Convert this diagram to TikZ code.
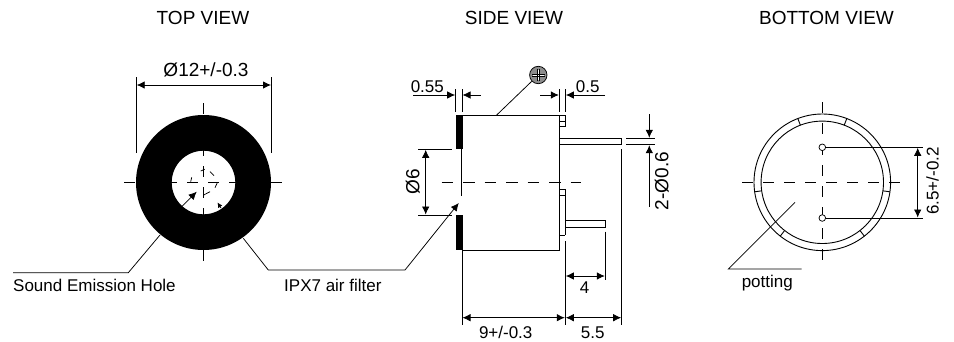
\documentclass[tikz,border=0pt]{standalone}
\usepackage{fontspec}
\setmainfont{Liberation Sans}
\usetikzlibrary{arrows.meta,calc}
\tikzset{>={Latex[length=8pt,width=7.5pt]}}
\tikzset{part/.style={line width=0.9pt,black}}
\tikzset{thin line/.style={line width=0.75pt,black}}
\tikzset{dim/.style={thin line,<->}}
\tikzset{center line/.style={line width=0.75pt,black,dash pattern=on 10.5pt off 10.5pt}}
\tikzset{label text/.style={inner sep=0pt,font=\fontsize{17}{17}\selectfont}}
\tikzset{big label/.style={inner sep=0pt,font=\fontsize{19}{19}\selectfont}}
\tikzset{title text/.style={inner sep=0pt,font=\fontsize{19}{19}\selectfont}}
\tikzset{pin hole/.style={circle,draw,line width=0.75pt,fill=white,inner sep=0pt,minimum size=6.6pt}}

\begin{document}
\begin{tikzpicture}[x=1pt,y=-1pt]
    \useasboundingbox (0,0) rectangle (954,341);

    \node[title text] (topTitle) at (203,18) {TOP VIEW};
    \node[title text] (sideTitle) at (514,18) {SIDE VIEW};
    \node[title text] (bottomTitle) at (826.5,18) {BOTTOM VIEW};

    % top view
    \coordinate (topC) at (203.5,182.5);
    \fill[black,even odd rule] (topC) circle (67.5) (topC) circle (31.8);
    \draw[center line] (124,182.5) -- (284,182.5);
    \draw[center line] (203.5,103) -- (203.5,262);
    \draw[thin line] (200.7,171) -- (204.7,169.3);
    \draw[thin line] (210,171.7) -- (214,175.7);
    \draw[thin line] (191.7,177.3) -- (190.7,181.7);
    \draw[thin line] (215,187.7) -- (217.3,182.7);
    \draw[thin line] (203.7,195) -- (210,191.7);
    \coordinate (holeTail) at (181.7,206.7);
    \coordinate (holeTip) at (196.7,191.7);
    \draw[thin line,->] (holeTail) -- (holeTip);
    \coordinate (smallTail) at (221,208);
    \coordinate (smallTip) at (217.5,202.5);
    \draw[thin line,-{Latex[length=5pt,width=5pt]}] (smallTail) -- (smallTip);
    \coordinate (topL) at (136.7,77.3);
    \coordinate (topLb) at (136.7,153.3);
    \coordinate (topR) at (271,77.3);
    \coordinate (topRb) at (271,153.3);
    \draw[thin line] (topL) -- (topLb);
    \draw[thin line] (topR) -- (topRb);
    \draw[dim] (136.7,85) -- (271,85);
    \node[big label] (topDia) at (206,69.5) {Ø12+/-0.3};
    \coordinate (soundA) at (160,235);
    \coordinate (soundB) at (128.3,272.7);
    \coordinate (soundC) at (13,272.7);
    \draw[thin line] (soundA) -- (soundB) -- (soundC);
    \node[label text,anchor=west] (soundLabel) at (13,285) {Sound Emission Hole};
    \coordinate (filterA) at (243.3,238.3);
    \coordinate (filterB) at (268.3,270);
    \coordinate (filterC) at (405,270);
    \coordinate (filterD) at (458.8,203);
    \draw[thin line,->] (filterA) -- (filterB) -- (filterC) -- (filterD);
    \node[label text,anchor=west] (filterLabel) at (284,285) {IPX7 air filter};

    % side view
    \fill[black] (455.7,115) rectangle (462.7,149.3);
    \fill[black] (455.7,215) rectangle (462.7,250);
    \draw[part] (462,115) -- (565.3,115) -- (565.3,126.7) -- (559.3,126.7);
    \draw[part] (559.3,121) -- (565.3,121);
    \draw[part] (559.3,115) -- (559.3,235) -- (565.3,235);
    \draw[part] (462,250) -- (559.3,250) -- (559.3,235);
    \draw[part] (559.3,189) -- (565.3,189) -- (565.3,235);
    \draw[part] (559.3,195) -- (565.3,195);
    \draw[part] (461,149.3) -- (461,196);
    \draw[part] (559.3,138.3) rectangle (621.7,144.7);
    \draw[part] (565.3,220.3) rectangle (605.3,227.3);
    \draw[center line,dash pattern=on 11.5pt off 10pt] (441.7,182.3) -- (581,182.3);
    % dimensions
    \draw[thin line] (455.7,89.3) -- (455.7,112.3);
    \draw[thin line] (462,89.3) -- (462,112.3);
    \draw[thin line] (559.3,89.3) -- (559.3,112.3);
    \draw[thin line] (565.3,89.3) -- (565.3,112.3);
    \draw[thin line,->] (413.3,95) -- (455.2,95);
    \draw[thin line,->] (480.7,95) -- (462.5,95);
    \draw[thin line,->] (540,95) -- (558.8,95);
    \draw[thin line,->] (605,95) -- (565.8,95);
    \node[label text] (dimA) at (427.3,87) {0.55};
    \node[label text] (dimB) at (587.7,87) {0.5};
    \node[circle,draw,line width=0.75pt,fill=black!45,minimum size=17.4pt,inner sep=0pt] (screw) at (538.3,75) {};
    \draw[white,line width=1.6pt] (533,75) -- (543.6,75) (538.3,69.7) -- (538.3,80.3);
    \draw[black,line width=0.5pt] (532,73.8) -- (544.6,73.8) (532,76.2) -- (544.6,76.2) (537.1,68.7) -- (537.1,81.3) (539.5,68.7) -- (539.5,81.3);
    \coordinate (screwFoot) at (496.7,115);
    \draw[thin line] (screw) -- (screwFoot);
    \draw[thin line] (418,149.3) -- (452.3,149.3);
    \draw[thin line] (418,215) -- (452.3,215);
    \draw[dim] (425.7,149.8) -- (425.7,214.5);
    \node[big label,rotate=90] (dimC) at (412.7,181.7) {Ø6};
    \draw[thin line] (626,138.3) -- (655,138.3);
    \draw[thin line] (626,144.7) -- (655,144.7);
    \draw[thin line,->] (649.3,114.3) -- (649.3,137.8);
    \draw[thin line,->] (649.3,206.7) -- (649.3,145.2);
    \node[big label,rotate=90] (dimD) at (661.7,181) {2-Ø0.6};
    \draw[thin line] (605.3,231.7) -- (605.3,280);
    \draw[thin line] (565.3,241) -- (565.3,325);
    \draw[thin line] (621.7,149.3) -- (621.7,325);
    \draw[thin line] (462,215) -- (462,325);
    \draw[dim] (565.8,276) -- (604.8,276);
    \draw[dim] (462.5,317.7) -- (564.8,317.7);
    \draw[dim] (565.8,317.7) -- (621.2,317.7);
    \node[label text] (dimE) at (584.7,287.3) {4};
    \node[label text] (dimF) at (505.7,332.3) {9+/-0.3};
    \node[label text] (dimG) at (592.7,332.3) {5.5};

    % bottom view
    \coordinate (botC) at (822.3,182.3);
    \draw[part] (botC) circle (68.3);
    \draw[part] (botC) circle (61.2);
    \foreach \ang in {-111,-69,-188,8,-232,-308}{
        \draw[part] ($(botC)+(\ang:61.2)$) -- ($(botC)+(\ang:68.3)$);
    }
    \draw[center line] (742.3,182.3) -- (903,182.3);
    \draw[center line] (822.3,102.3) -- (822.3,263);
    \node[pin hole] (pinA) at (822.3,147.3) {};
    \node[pin hole] (pinB) at (822.3,218) {};
    \coordinate (pinAe) at (923.3,147.3);
    \coordinate (pinBe) at (923.3,218);
    \draw[thin line] (pinA) -- (pinAe);
    \draw[thin line] (pinB) -- (pinBe);
    \draw[dim] (917.7,147.8) -- (917.7,217.5);
    \node[label text,rotate=90] (dimH) at (932.5,181) {6.5+/-0.2};
    \coordinate (potA) at (795,202.3);
    \coordinate (potB) at (728.3,269);
    \coordinate (potC) at (801.7,269);
    \draw[thin line] (potA) -- (potB) -- (potC);
    \node[label text] (potLabel) at (767.3,282.7) {potting};
\end{tikzpicture}
\end{document}
